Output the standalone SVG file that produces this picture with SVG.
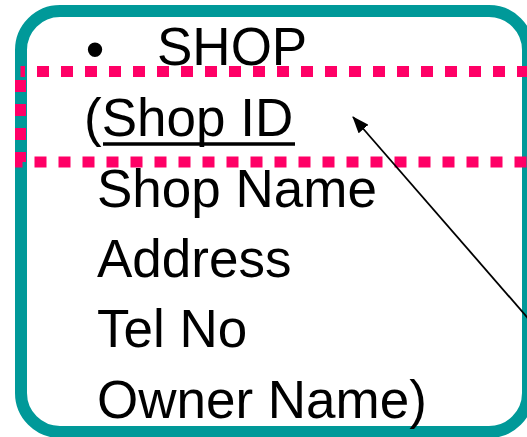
<svg xmlns="http://www.w3.org/2000/svg" width="527" height="437" viewBox="0 0 527 437">
  <style>
    .t { font-family: "Liberation Sans", Arial, sans-serif; font-size: 53px; fill: #000; }
    .frame { fill: #fff; stroke: #009999; stroke-width: 12; }
    .key { fill: none; stroke: #FF0066; stroke-width: 11; stroke-dasharray: 12 12; stroke-dashoffset: 7.5; }
    .conn { stroke: #000; stroke-width: 1.8; fill: none; }
  </style>
  <defs>
    <marker id="arrow" markerWidth="17" markerHeight="13" refX="16" refY="6.5" orient="auto" markerUnits="userSpaceOnUse" viewBox="0 0 17 13">
      <path d="M0,0 L17,6.5 L0,13 z" fill="#000"/>
    </marker>
  </defs>
  <rect width="527" height="437" fill="#fff"/>
  <g id="shop-entity">
    <rect class="frame" x="21" y="11" width="507" height="421" rx="39" ry="39"/>
    <text class="t" x="95" y="68" text-anchor="middle" font-size="60">•</text>
    <text class="t" x="157" y="65">SHOP</text>
    <text class="t" x="84" y="136">(Shop ID</text>
    <line x1="103" y1="144" x2="295" y2="144" stroke="#000" stroke-width="3.5"/>
    <text class="t" x="97" y="207">Shop Name</text>
    <text class="t" x="97" y="277">Address</text>
    <text class="t" x="97" y="347">Tel No</text>
    <text class="t" x="97" y="418">Owner Name)</text>
  </g>
  <g id="primary-key-highlight">
    <rect class="key" x="20.5" y="71.5" width="540" height="90.5"/>
  </g>
  <g id="connectors">
    <line class="conn" x1="540" y1="332" x2="353" y2="117" marker-end="url(#arrow)"/>
  </g>
</svg>
